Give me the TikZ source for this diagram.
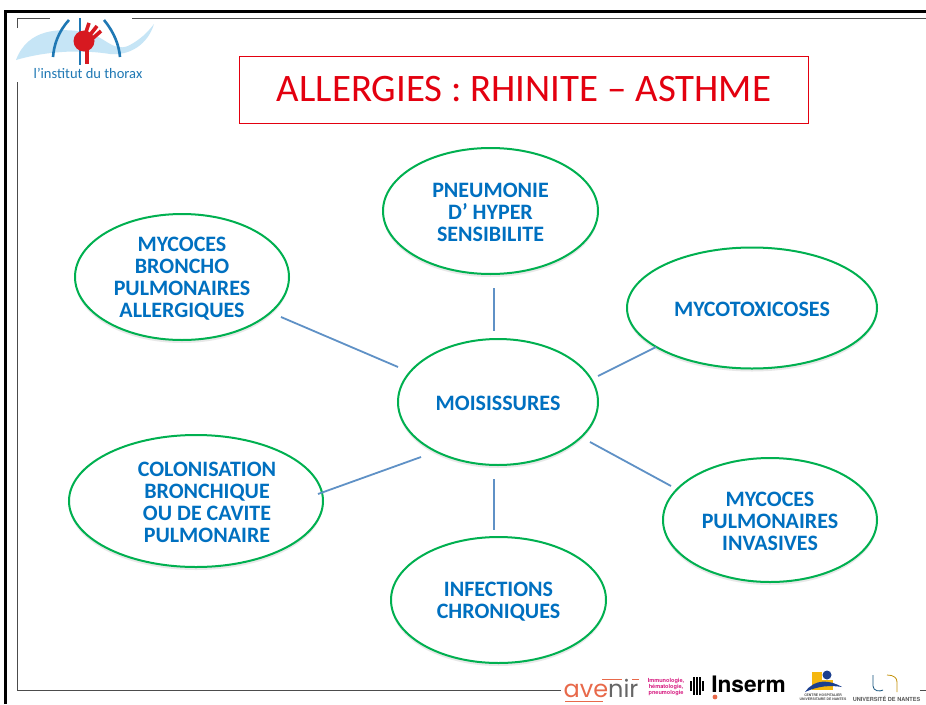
\documentclass[tikz,border=0pt]{standalone}
\usepackage{fontspec}
\setmainfont{Carlito}
\newfontfamily\heros{TeX Gyre Heros}
\newfontfamily\pop{Poppins}
\usetikzlibrary{shapes.geometric}
\definecolor{ovalgreen}{HTML}{00B050}
\definecolor{labelblue}{HTML}{0070C0}
\definecolor{linkblue}{HTML}{5F91C6}
\definecolor{thoraxblue}{HTML}{1F78B4}
\definecolor{wave}{HTML}{5DB5E5}
\definecolor{thoraxred}{HTML}{D71920}
\definecolor{titlered}{HTML}{E3000F}
\definecolor{avenirorange}{HTML}{E8694A}
\definecolor{immuno}{HTML}{D6187F}
\definecolor{chuyellow}{HTML}{F5B70F}
\definecolor{chublue}{HTML}{1B3F8F}
\tikzset{
  x=1pt,y=-1pt,
  ovalnode/.style={ellipse,draw=ovalgreen,line width=2pt,fill=white,inner sep=0pt},
  ovallabel/.style={text=labelblue,align=center,inner sep=0pt,font=\fontsize{22}{22}\selectfont\bfseries},
  ovalshadow/.style={ellipse,fill=black!9,inner sep=0pt},
  link/.style={draw=linkblue,line width=1.8pt},
  frameouter/.style={draw=black,line width=2.6pt},
  frameinner/.style={draw=black!70,line width=1.1pt},
  titlebox/.style={draw=titlered,line width=0.9pt,fill=white,minimum width=569pt,minimum height=67pt,
    text=titlered,inner sep=0pt,font=\fontsize{38.9}{40}\selectfont},
  logotext/.style={inner sep=0pt,align=center},
}
\newcommand{\myoval}[7][1]{%
  \node[ovalshadow,minimum width=#4pt,minimum height=#5pt] at (#2,#3+3) {};
  \node[ovalnode,minimum width=#4pt,minimum height=#5pt] (#6) at (#2,#3) {};
  \node[ovallabel] (#6text) at (#2,#3+#1) {#7};}
\begin{document}
\begin{tikzpicture}
\useasboundingbox (0,0) rectangle (926,704);
\fill[white] (0,0) rectangle (926,704);
% frames
\draw[frameouter] (5.5,704) -- (5.5,11.5) -- (926,11.5);
\draw[frameinner] (17.5,28) -- (17.5,18.5) -- (50,18.5);
\draw[frameinner] (132,18.5) -- (926,18.5);
\draw[frameinner] (17.5,82) -- (17.5,690.5) -- (561,690.5);
\draw[frameinner] (920,690.5) -- (926,690.5);
% thorax logo
\shade[left color=wave!35,middle color=wave,right color=wave!35] (16,60) .. controls (28,28) and (60,28) .. (85,32) .. controls (105,36) and (112,52) .. (128,46) .. controls (140,40) and (148,32) .. (154,24) .. controls (148,44) and (130,56) .. (110,54) .. controls (85,50) and (50,50) .. (16,60) -- cycle;
\draw[thoraxblue,line width=2.6pt] (69,20) .. controls (58,32) and (54,45) .. (53,57);
\draw[thoraxblue,line width=2.6pt] (104,20) .. controls (114,32) and (119,45) .. (120,57);
\draw[thoraxblue,line width=2.6pt] (80,18) -- (80,65);
\fill[thoraxred] (84,41) circle (10.5pt);
\draw[thoraxred,line width=3.6pt] (86,32) -- (89,23);
\draw[thoraxred,line width=3.6pt] (90,35) -- (97,26);
\draw[thoraxred,line width=3.6pt] (92,39) -- (101,31);
\draw[thoraxred,line width=3.4pt] (87,50) -- (87,64);
\node[logotext,text=thoraxblue,font=\fontsize{14.5}{15}\selectfont] (thoraxname) at (88,73.5) {l’institut du thorax};
% title
\node[titlebox] (title) at (524,89.5) {\raisebox{-2pt}{ALLERGIES : RHINITE – ASTHME}};
% ovals
\myoval{498}{402}{200}{126}{hub}{MOISISSURES}
\myoval{490.5}{211}{215}{126}{pneumonie}{PNEUMONIE\\D’ HYPER\\SENSIBILITE}
\myoval[2]{182}{277}{214}{126}{abpa}{MYCOCES\\BRONCHO\\PULMONAIRES\\ALLERGIQUES}
\myoval{752}{308}{250}{121}{toxi}{MYCOTOXICOSES}
\node[ovalshadow,minimum width=254pt,minimum height=132pt] at (196,504) {};
\node[ovalnode,minimum width=254pt,minimum height=132pt] (colon) at (196,501) {};
\node[ovallabel] (colontext) at (207,502.5) {COLONISATION\\BRONCHIQUE\\OU DE CAVITE\\PULMONAIRE};
\myoval{770}{520}{214}{124}{invasive}{MYCOCES\\PULMONAIRES\\INVASIVES}
\myoval[2]{498.5}{600}{215}{126}{chronic}{INFECTIONS\\CHRONIQUES}
% connector free ends
\coordinate (a1) at (281,317); \coordinate (a2) at (398,367);
\coordinate (b1) at (494,288); \coordinate (b2) at (494,331);
\coordinate (c1) at (598,376); \coordinate (c2) at (656,347);
\coordinate (d1) at (590,442); \coordinate (d2) at (671,486);
\coordinate (e1) at (494,479); \coordinate (e2) at (494,530);
\coordinate (f1) at (421,457); \coordinate (f2) at (318,494);
\draw[link] (a1) -- (a2);
\draw[link] (b1) -- (b2);
\draw[link] (c1) -- (c2);
\draw[link] (d1) -- (d2);
\draw[link] (e1) -- (e2);
\draw[link] (f1) -- (f2);
% bottom logos
\node[logotext,font=\pop\fontsize{24}{26}\selectfont,anchor=base] (avenir) at (601,697) {\textcolor{avenirorange}{ave}\textcolor{black!60}{nir}};
\draw[avenirorange,line width=1pt] (602,679) -- (622,679);
\draw[avenirorange,line width=1pt] (632,679) -- (639,679);
\draw[avenirorange,line width=1pt] (565,701) -- (603,701);
\node[logotext,text=immuno,font=\heros\bfseries\fontsize{5.6}{6.1}\selectfont] (immunoText) at (666,687) {Immunologie,\\hématologie,\\pneumologie};
\foreach \px/\ph in {691/5,694/9,697/9,700/9,703/5}{\draw[black,line width=1.6pt] (\px,686-\ph) -- (\px,686+\ph);}
\node[logotext,text=black,font=\heros\bfseries\fontsize{22.7}{24}\selectfont] (inserm) at (748.5,684) {Inserm};
\fill[avenirorange] (715,697) circle (2.4pt);
\fill[chuyellow] (812,672) rectangle (833,690);
\fill[white] (822,671) rectangle (833,680);
\fill[chublue] (827,675) circle (4.5pt);
\fill[chublue] (805,692) .. controls (815,678) and (830,680) .. (842,687) .. controls (830,685) and (818,686) .. (805,692) -- cycle;
\node[logotext,text=black!70,font=\heros\bfseries\fontsize{3.4}{4.3}\selectfont] (chu) at (823,697.5) {CENTRE HOSPITALIER\\UNIVERSITAIRE DE NANTES};
\draw[thoraxblue!70!black,line width=.8pt] (873,675) -- (873,686) .. controls (873,691) and (880,692) .. (883,690);
\draw[chuyellow!80!black,line width=.8pt] (887,675) .. controls (894,675) and (897,678) .. (897,682) -- (897,692);
\node[logotext,text=black!65,font=\heros\bfseries\fontsize{5.6}{6.5}\selectfont] (nantes) at (886.5,698.5) {UNIVERSITÉ DE NANTES};
\end{tikzpicture}
\end{document}
